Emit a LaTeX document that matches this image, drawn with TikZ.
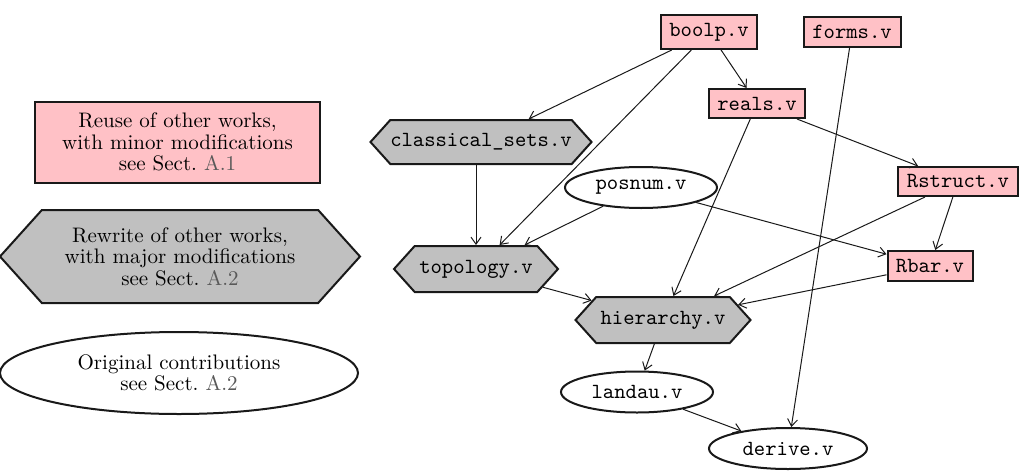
\documentclass[tikz,border=0pt]{standalone}
\usepackage{xcolor}
\usetikzlibrary{shapes.geometric}
\usetikzlibrary{shapes.symbols}
\usetikzlibrary{arrows.meta}
\definecolor{reusepink}{RGB}{255,193,198}
\definecolor{rewritegray}{RGB}{192,192,192}
\tikzstyle{file}=[font=\fontsize{10.8}{13}\selectfont\ttfamily, line width=1pt, draw=black!90, text=black, inner sep=0pt]
\tikzstyle{reuse}=[file, rectangle, fill=reusepink]
\tikzstyle{rewrite}=[file, signal, signal to=east and west, signal pointer angle=96, fill=rewritegray]
\tikzstyle{original}=[file, ellipse, fill=white]
\tikzstyle{legend}=[font=\fontsize{10.5}{10.8}\selectfont\rmfamily, align=center]
\tikzstyle{dep}=[-{Straight Barb[length=3.5pt,width=5pt]}, line width=0.5pt, black!90]
\newcommand{\seesect}[1]{see Sect.~\textcolor{black!65}{#1}}

\begin{document}
\begin{tikzpicture}[x=0.5pt,y=-0.5pt]
	\useasboundingbox (0,0) rectangle (1027,471);
	% legend
	\node[reuse, legend, minimum width=142.5pt, minimum height=40.5pt] (reuseleg) at (177.5,142) {Reuse of other works,\\with minor modifications\\\seesect{A.1}};
	\node[rewrite, legend, minimum width=180pt, minimum height=46.5pt] (rewriteleg) at (180,256.5) {Rewrite of other works,\\with major modifications\\\seesect{A.2}};
	\node[original, legend, minimum width=179pt, minimum height=41pt] (originalleg) at (179,373) {Original contributions\\\seesect{A.2}};
	% files
	\node[reuse, minimum width=48pt, minimum height=17pt] (boolp) at (709,32) {boolp.v};
	\node[reuse, minimum width=48.5pt, minimum height=15pt] (forms) at (852,32) {forms.v};
	\node[reuse, minimum width=48pt, minimum height=14.5pt] (reals) at (757,103.5) {reals.v};
	\node[reuse, minimum width=60pt, minimum height=14.5pt] (Rstruct) at (958,181.5) {Rstruct.v};
	\node[reuse, minimum width=42.5pt, minimum height=15pt] (Rbar) at (930,266) {Rbar.v};
	\node[rewrite, minimum width=109pt, minimum height=22pt] (classical) at (481,142) {classical\_sets.v};
	\node[rewrite, minimum width=82pt, minimum height=23pt] (topology) at (476,269) {topology.v};
	\node[rewrite, minimum width=87.5pt, minimum height=23pt] (hierarchy) at (663,320) {hierarchy.v};
	\node[original, minimum width=76pt, minimum height=20.5pt] (posnum) at (641,187.5) {posnum.v};
	\node[original, minimum width=76pt, minimum height=20.5pt] (landau) at (637,392) {landau.v};
	\node[original, minimum width=79pt, minimum height=20.5pt] (derive) at (788,448.5) {derive.v};
	% dependencies
	\foreach \a/\b in {boolp/classical, boolp/topology, boolp/reals, reals/hierarchy,
		reals/Rstruct, posnum/topology, posnum/Rbar,
		topology/hierarchy, Rstruct/hierarchy, Rbar/hierarchy, Rstruct/Rbar,
		forms/derive, hierarchy/landau, landau/derive}
		\draw[dep] (\a) -- (\b);
	\draw[dep] (topology.north |- classical.south) -- (topology.north);
\end{tikzpicture}
\end{document}
